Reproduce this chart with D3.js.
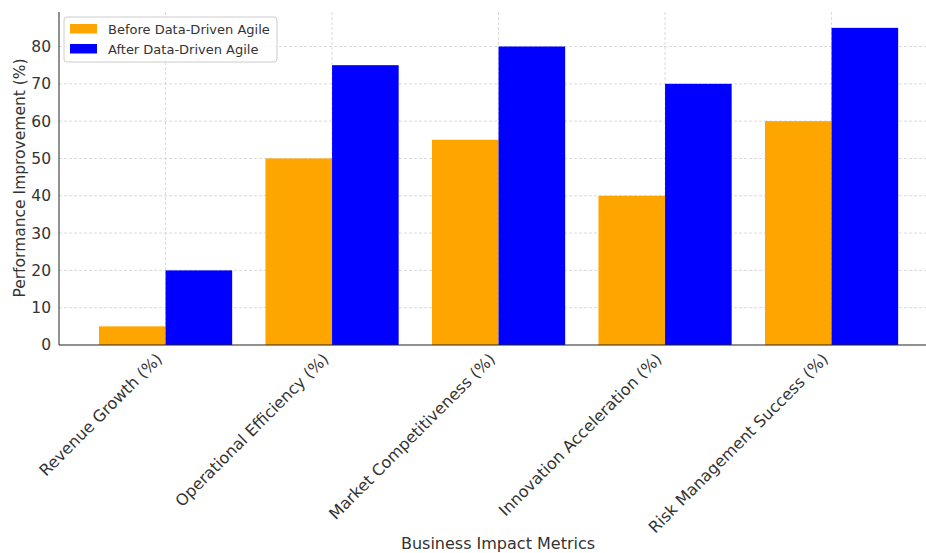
<!DOCTYPE html>
<html><head><meta charset="utf-8">
<script src="https://cdn.jsdelivr.net/npm/d3@7"></script>
<style>body{margin:0;background:#fff}svg{display:block}text{font-family:"DejaVu Sans",sans-serif}</style>
</head><body>
<script>
const categories = ["Revenue Growth (%)","Operational Efficiency (%)","Market Competitiveness (%)","Innovation Acceleration (%)","Risk Management Success (%)"];
const beforeValues = [5,50,55,40,60];
const afterValues = [20,75,80,70,85];
const seriesNames = ["Before Data-Driven Agile","After Data-Driven Agile"];
const seriesColors = ["#FFA500","#0000FF"];
const yTicks = [0,10,20,30,40,50,60,70,80];

(function(){
const W=926,H=553;
const svg=d3.select("body").append("svg").attr("width",W).attr("height",H);
const mLeft=59, mBottom=345, mTop=12;
const x=d3.scaleLinear().domain([-0.64,4.64]).range([mLeft,mLeft+5.28*166.5]);
const y=d3.scaleLinear().domain([0,89.25]).range([mBottom,mTop]);
const bw=0.4;

const g=svg.append("g");
g.selectAll(".hg").data(yTicks.slice(1)).join("line")
 .attr("x1",mLeft).attr("x2",W).attr("y1",d=>y(d)).attr("y2",d=>y(d))
 .attr("stroke","#d0d0d0").attr("stroke-width",0.8).attr("stroke-dasharray","3,2");
g.selectAll(".vg").data(categories).join("line")
 .attr("x1",(d,i)=>x(i)).attr("x2",(d,i)=>x(i)).attr("y1",mTop).attr("y2",mBottom)
 .attr("stroke","#d0d0d0").attr("stroke-width",0.8).attr("stroke-dasharray","3,2");

const series=[beforeValues,afterValues];
series.forEach((vals,s)=>{
  g.selectAll(".b"+s).data(vals).join("rect")
   .attr("x",(d,i)=>x(i+(s===0?-bw:0)))
   .attr("width",x(bw)-x(0))
   .attr("y",d=>y(d)).attr("height",d=>mBottom-y(d))
   .attr("fill",seriesColors[s]);
});

const yAxis=d3.axisLeft(y).tickValues(yTicks).tickSize(0).tickPadding(8);
const ya=svg.append("g").attr("transform",`translate(${mLeft},0)`).call(yAxis);
ya.select(".domain").attr("stroke","#222").attr("stroke-width",1).attr("d",`M0,${mTop}V${mBottom}`);
ya.selectAll(".tick text").attr("font-size",15.5).attr("fill","#333");

const xa=svg.append("g").attr("transform",`translate(0,${mBottom})`)
  .call(d3.axisBottom(x).tickValues(d3.range(categories.length)).tickFormat(i=>categories[i]).tickSize(0));
xa.select(".domain").attr("stroke","#222").attr("stroke-width",1).attr("d",`M${mLeft},0H${W}`);
xa.selectAll(".tick text").attr("font-size",16).attr("fill","#333")
  .attr("text-anchor","end").attr("x",0).attr("y",0).attr("dy",0)
  .attr("transform","translate(-3,15) rotate(-45)");

svg.append("text").attr("x",498).attr("y",549).attr("text-anchor","middle")
  .attr("font-size",16).attr("fill","#333").text("Business Impact Metrics");
svg.append("text").attr("transform","translate(25,178) rotate(-90)").attr("text-anchor","middle")
  .attr("font-size",15.5).attr("fill","#333").text("Performance Improvement (%)");

const lg=svg.append("g").attr("transform","translate(64,17)");
lg.append("rect").attr("width",213).attr("height",45).attr("rx",3)
  .attr("fill","#fff").attr("fill-opacity",0.8).attr("stroke","#ccc");
seriesNames.forEach((n,i)=>{
  lg.append("rect").attr("x",6).attr("y",7+i*20).attr("width",27).attr("height",9.5).attr("fill",seriesColors[i]);
  lg.append("text").attr("x",44).attr("y",16.5+i*20).attr("font-size",13).attr("fill","#333").text(n);
});
})();
</script>
</body></html>
